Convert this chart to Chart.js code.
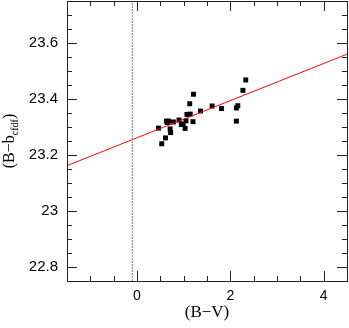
<!DOCTYPE html>
<html>
<head>
<meta charset="utf-8">
<script src="https://cdn.jsdelivr.net/npm/chart.js@4/dist/chart.umd.min.js"></script>
<style>
  html, body { margin: 0; padding: 0; background: #fff; }
  #wrap { width: 349px; height: 328px; }
</style>
</head>
<body>
<div id="wrap"><canvas id="bvChart" width="349" height="328"></canvas></div>
<script>
// Observed stars: (B-V) colour vs (B - b_cfdf)
var bvColor = [0.46, 0.53, 0.61, 0.63, 0.675, 0.65, 0.71, 0.72, 0.78, 0.90, 0.95, 0.99, 1.03, 1.05,
               1.07, 1.14, 1.13, 1.21, 1.20, 1.36, 1.61, 1.81, 2.13, 2.16, 2.13, 2.27, 2.33];
var bMinusB = [23.296, 23.240, 23.261, 23.321, 23.321, 23.316, 23.293, 23.280, 23.318, 23.325, 23.309,
               23.311, 23.295, 23.322, 23.345, 23.346, 23.383, 23.417, 23.319, 23.357, 23.375, 23.366,
               23.368, 23.376, 23.321, 23.431, 23.468];

// Linear fit, evaluated at the axis ends
var fitX = [-1.5, 4.5];
var fitY = [23.162, 23.560];

// Dotted vertical reference line
var refX = -0.1;

// Axis ranges and ticks
var xRange = [-1.5, 4.5];
var yRange = [22.75, 23.75];
var xStep = 0.5, xMajor = 2;
var yStep = 0.05, yMajor = 0.2;

function isMajor(v, m) {
    var r = v / m;
    return Math.abs(r - Math.round(r)) < 1e-6;
}

function toXY(xs, ys) {
    return xs.map(function (x, i) { return { x: x, y: ys[i] }; });
}

// Frame with inward ticks on all four sides
var frameTicks = {
    id: 'frameTicks',
    afterDraw: function (chart) {
        var ctx = chart.ctx, a = chart.chartArea;
        var xs = chart.scales.x, ys = chart.scales.y;
        ctx.save();
        ctx.strokeStyle = '#222';
        ctx.lineWidth = 1;
        ctx.beginPath();
        xs.ticks.forEach(function (t) {
            var px = Math.round(xs.getPixelForValue(t.value)) + 0.5;
            var len = isMajor(t.value, xMajor) ? 10 : 5;
            ctx.moveTo(px, a.bottom); ctx.lineTo(px, a.bottom - len);
            ctx.moveTo(px, a.top); ctx.lineTo(px, a.top + len);
        });
        ys.ticks.forEach(function (t) {
            var py = Math.round(ys.getPixelForValue(t.value)) + 0.5;
            var len = isMajor(t.value, yMajor) ? 10 : 5;
            ctx.moveTo(a.left, py); ctx.lineTo(a.left + len, py);
            ctx.moveTo(a.right, py); ctx.lineTo(a.right - len, py);
        });
        ctx.stroke();
        ctx.strokeRect(Math.round(a.left) + 0.5, Math.round(a.top) + 0.5,
                       Math.round(a.right - a.left), Math.round(a.bottom - a.top));
        ctx.restore();
    }
};

// Y title with subscript
var yTitle = {
    id: 'yTitle',
    afterDraw: function (chart) {
        var ctx = chart.ctx, a = chart.chartArea;
        var main = '16px "Liberation Serif", serif';
        var sub = '10px "Liberation Serif", serif';
        var parts = [['(B\u2212b', main, 0], ['cfdf', sub, 4], [')', main, 0]];
        ctx.save();
        var w = 0;
        parts.forEach(function (p) { ctx.font = p[1]; w += ctx.measureText(p[0]).width; });
        ctx.translate(14, (a.top + a.bottom) / 2);
        ctx.rotate(-Math.PI / 2);
        ctx.fillStyle = '#000';
        ctx.textBaseline = 'alphabetic';
        var x = -w / 2;
        parts.forEach(function (p) {
            ctx.font = p[1];
            ctx.fillText(p[0], x, p[2]);
            x += ctx.measureText(p[0]).width;
        });
        ctx.restore();
    }
};

new Chart(document.getElementById('bvChart'), {
    type: 'scatter',
    data: {
        datasets: [
            {
                label: 'ref',
                data: [{ x: refX, y: yRange[0] }, { x: refX, y: yRange[1] }],
                showLine: true,
                borderColor: '#777',
                borderWidth: 1,
                borderDash: [2, 1],
                pointRadius: 0
            },
            {
                label: 'fit',
                data: toXY(fitX, fitY),
                showLine: true,
                borderColor: '#ff0000',
                borderWidth: 1,
                pointRadius: 0
            },
            {
                label: 'stars',
                data: toXY(bvColor, bMinusB),
                pointStyle: 'rect',
                pointRadius: 3.5,
                pointHoverRadius: 3.5,
                backgroundColor: '#000',
                borderColor: '#000',
                borderWidth: 0
            }
        ]
    },
    options: {
        responsive: false,
        animation: false,
        events: [],
        layout: { autoPadding: false, padding: { top: 1, right: 2, left: 0, bottom: 0 } },
        plugins: {
            legend: { display: false },
            tooltip: { enabled: false }
        },
        scales: {
            x: {
                type: 'linear',
                min: xRange[0],
                max: xRange[1],
                border: { display: false },
                grid: { display: false, drawTicks: false },
                ticks: {
                    stepSize: xStep,
                    autoSkip: false,
                    maxRotation: 0,
                    padding: 7,
                    color: '#000',
                    font: { family: '"Liberation Sans", sans-serif', size: 14 },
                    callback: function (v) { return isMajor(v, xMajor) ? String(Math.round(v)) : ''; }
                },
                title: {
                    display: true,
                    text: '(B\u2212V)',
                    color: '#000',
                    font: { family: '"Liberation Serif", serif', size: 17 },
                    padding: { top: 0, bottom: 5 }
                },
                afterFit: function (s) {
                    s.height = 47;
                    s.paddingLeft = 0;
                    s.paddingRight = 0;
                }
            },
            y: {
                type: 'linear',
                min: yRange[0],
                max: yRange[1],
                border: { display: false },
                grid: { display: false, drawTicks: false },
                ticks: {
                    stepSize: yStep,
                    autoSkip: false,
                    padding: 9,
                    color: '#000',
                    font: { family: '"Liberation Sans", sans-serif', size: 15 },
                    callback: function (v) { return isMajor(v, yMajor) ? String(Math.round(v * 10) / 10) : ''; }
                },
                afterFit: function (s) {
                    s.width = 67;
                    s.paddingTop = 0;
                    s.paddingBottom = 0;
                }
            }
        }
    },
    plugins: [frameTicks, yTitle]
});
</script>
</body>
</html>
